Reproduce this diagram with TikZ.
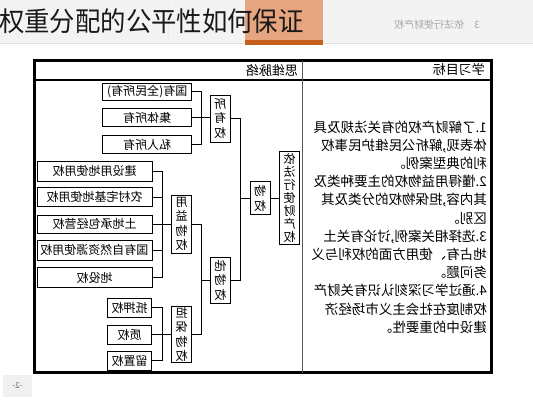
\documentclass[tikz,border=0pt]{standalone}
\usepackage{fontspec}
\usepackage{graphicx}
\setmainfont{Noto Sans CJK SC}
\newcommand\rf[1]{\reflectbox{#1}}
\definecolor{tabor}{HTML}{E6A47F}
\definecolor{tabbar}{HTML}{C65F1E}
\definecolor{barbg}{HTML}{F3F3F3}
\begin{document}
\begin{tikzpicture}[x=1pt,y=-1pt,
 leaf/.style={draw=black,line width=0.9pt,minimum height=18.5pt,inner sep=0pt,font=\fontsize{12}{14}\selectfont},
 vbox/.style={draw=black,line width=0.9pt,minimum width=20pt,inner sep=0pt,align=center,font=\fontsize{12}{14.5}\selectfont},
 wire/.style={line width=0.9pt,black},
 head/.style={inner sep=0pt,font=\fontsize{13}{15}\selectfont}]
\useasboundingbox (0,0) rectangle (533,400);
\fill[white] (0,0) rectangle (533,400);
% top tab bar
\fill[barbg] (0,0) rectangle (533,43);
\draw[gray!25] (0,43.5) -- (533,43.5);
\draw[gray!15] (90,4) -- (90,40);
\draw[gray!15] (168,4) -- (168,40);
\fill[tabor] (245,0) rectangle (323,40);
\fill[tabbar] (245,40) rectangle (323,44.5);
\node[inner sep=0pt,text=gray!70,font=\fontsize{10}{12}\selectfont] (tab) at (437,25) {\rf{3\hspace{10pt}依法行使财产权}};
\node[anchor=west,inner sep=0pt,text=black!90] (title) at (-1,21) {\fontsize{27}{30}\selectfont\scalebox{0.94}[1]{权重分配的公平性如何保证}};
% page number
\fill[gray!12] (3,375) rectangle (32,397);
\node[inner sep=0pt,text=gray!80!black,font=\fontsize{8}{9}\selectfont] (pg) at (17.5,386) {\rf{-2-}};
% frame
\draw[line width=3pt] (34.5,60.5) rectangle (491,372.5);
\draw[line width=1.2pt] (34.5,80) -- (491,80);
\draw[line width=1pt,gray!70!black] (302,60.5) -- (302,372.5);
\node[head,anchor=east] (hl) at (298,70) {\rf{思维脉络}};
\node[head,anchor=east] (hr) at (485,69) {\rf{学习目标}};
% learning goals
\node[anchor=north east,inner sep=0pt] (goals) at (487,120.5) {\fontsize{13.5}{18.2}\selectfont\rf{\parbox[t]{180pt}{\raggedright
1.了解财产权的有关法规及具\\
体表现,解析公民维护民事权\\
利的典型案例。\\
2.懂得用益物权的主要种类及\\
其内容,担保物权的分类及其\\
区别。\\
3.选择相关案例,讨论有关土\\
地占有、使用方面的权利与义\\
务问题。\\
4.通过学习深刻认识有关财产\\
权制度在社会主义市场经济\\
建设中的重要性。}}};
% ownership leaves
\node[leaf,minimum width=89pt,minimum height=17pt] (gy) at (147.2,91.7) {\rf{国有(全民所有)}};
\node[leaf,minimum width=89pt] (jt) at (147.2,117.5) {\rf{集体所有}};
\node[leaf,minimum width=89pt] (sr) at (147.2,144.5) {\rf{私人所有}};
\node[vbox,minimum height=47pt] (syq) at (220,118.5) {\rf{所}\\\rf{有}\\\rf{权}};
% usufruct leaves
\node[leaf,minimum width=115pt,minimum height=20pt] (js) at (94.5,171) {\rf{建设用地使用权}};
\node[leaf,minimum width=115pt,minimum height=19pt] (nc) at (94.5,197.2) {\rf{农村宅基地使用权}};
\node[leaf,minimum width=115pt] (td) at (94.5,224.2) {\rf{土地承包经营权}};
\node[leaf,minimum width=115pt,minimum height=19.3pt] (gz) at (94.5,250.4) {\rf{国有自然资源使用权}};
\node[leaf,minimum width=115pt,minimum height=19.6pt] (dy) at (94.5,277.5) {\rf{地役权}};
\node[vbox,minimum height=58pt] (yy) at (181.7,224) {\rf{用}\\\rf{益}\\\rf{物}\\\rf{权}};
% security leaves
\node[leaf,minimum width=44pt,minimum height=19.7pt] (dya) at (129.7,307.9) {\rf{抵押权}};
\node[leaf,minimum width=44pt,minimum height=19pt] (zq) at (129.7,334.5) {\rf{质权}};
\node[leaf,minimum width=44pt,minimum height=18.3pt] (lz) at (129.7,360.9) {\rf{留置权}};
\node[vbox,minimum height=56pt] (dbq) at (181.7,334.7) {\rf{担}\\\rf{保}\\\rf{物}\\\rf{权}};
% upper levels
\node[vbox,minimum width=20.7pt,minimum height=46pt] (twq) at (220.3,280) {\rf{他}\\\rf{物}\\\rf{权}};
\node[vbox,minimum height=33pt] (wq) at (260,198.3) {\rf{物}\\\rf{权}};
\node[vbox,minimum height=93pt,font=\fontsize{12}{13}\selectfont] (yf) at (289.5,198.3) {\rf{依}\\\rf{法}\\\rf{行}\\\rf{使}\\\rf{财}\\\rf{产}\\\rf{权}};
% connectors
\draw[wire] (gy.east) -- ++(9,0) |- (sr.east);
\draw[wire] (jt.east) -- (jt.east -| syq.west);
\draw[wire] (js.east) -- ++(10,0) |- (dy.east);
\draw[wire] (nc.east) -- ++(10,0);
\draw[wire] (gz.east) -- ++(10,0);
\draw[wire] (td.east) -- (td.east -| yy.west);
\draw[wire] (dya.east) -- ++(10,0) |- (lz.east);
\draw[wire] (zq.east) -- (zq.east -| dbq.west);
\draw[wire] (yy.east) -- ++(9,0) |- (dbq.east);
\coordinate (b3) at ([xshift=9pt]yy.east);
\draw[wire] (twq.west) -- (twq.west -| b3);
\draw[wire] (syq.east) -- ++(10,0) |- (twq.east);
\coordinate (b4) at ([xshift=10pt]syq.east);
\draw[wire] (wq.west) -- (wq.west -| b4);
\draw[wire] (wq.east) -- (wq.east -| yf.west);
\end{tikzpicture}
\end{document}
